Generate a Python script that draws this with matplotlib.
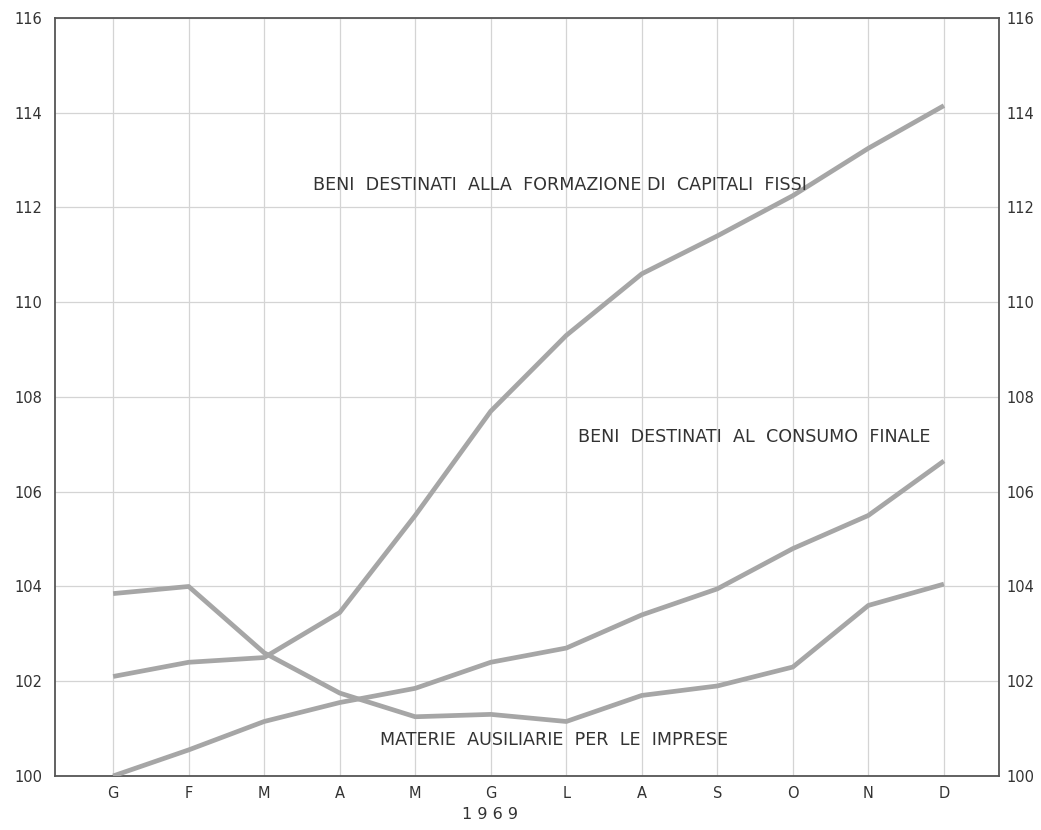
import matplotlib
matplotlib.use("Agg")
import matplotlib.pyplot as plt

months = ["G", "F", "M", "A", "M", "G", "L", "A", "S", "O", "N", "D"]
capitali_fissi = [102.1, 102.4, 102.5, 103.45, 105.5, 107.7, 109.3, 110.6, 111.4, 112.25, 113.25, 114.15]
consumo_finale = [100.0, 100.55, 101.15, 101.55, 101.85, 102.4, 102.7, 103.4, 103.95, 104.8, 105.5, 106.65]
materie_ausiliarie = [103.85, 104.0, 102.6, 101.75, 101.25, 101.3, 101.15, 101.7, 101.9, 102.3, 103.6, 104.05]
y_ticks = [100, 102, 104, 106, 108, 110, 112, 114, 116]
y_labels = ["100", "102", "104", "106", "108", "110", "112", "114", "116"]
year_label = "1 9 6 9"
label_capitali = "BENI  DESTINATI  ALLA  FORMAZIONE DI  CAPITALI  FISSI"
label_consumo = "BENI  DESTINATI  AL  CONSUMO  FINALE"
label_materie = "MATERIE  AUSILIARIE  PER  LE  IMPRESE"

plt.rcParams['font.family'] = ['DejaVu Sans']

fig = plt.figure(figsize=(10.41, 8.30), dpi=100)
ax = fig.add_axes([0.0528, 0.0651, 0.9069, 0.9132])
x = list(range(len(months)))

line_color = "#a6a6a6"
ax.plot(x, capitali_fissi, color=line_color, lw=3.4, solid_capstyle="butt", zorder=3)
ax.plot(x, consumo_finale, color=line_color, lw=3.4, solid_capstyle="butt", zorder=3)
ax.plot(x, materie_ausiliarie, color=line_color, lw=3.4, solid_capstyle="butt", zorder=3)

ax.set_xlim(-0.77, 11.73)
ax.set_ylim(100, 116)
ax.set_xticks(x)
ax.set_xticklabels(months)
ax.set_yticks(y_ticks)
ax.set_yticklabels(y_labels)
ax.grid(True, color="#d4d4d4", lw=0.9)
ax.set_axisbelow(True)
ax.tick_params(length=0, labelsize=10.5, labelcolor="#333333")
ax.tick_params(axis="x", pad=7)
ax.tick_params(axis="y", pad=9)
for s in ax.spines.values():
    s.set_color("#555555")
    s.set_linewidth(1.3)

ax2 = ax.twinx()
ax2.set_ylim(100, 116)
ax2.set_yticks(y_ticks)
ax2.set_yticklabels(y_labels)
ax2.tick_params(length=0, labelsize=10.5, labelcolor="#333333", pad=5)
for s in ax2.spines.values():
    s.set_visible(False)

txt_kw = dict(fontsize=12.6, color="#333333", va="center", ha="left")
ax.text(2.65, 112.47, label_capitali, **txt_kw)
ax.text(6.16, 107.16, label_consumo, **txt_kw)
ax.text(3.54, 100.76, label_materie, **txt_kw)

fig.text(490 / 1041, 1 - 814 / 830, year_label, fontsize=11.5, color="#333333",
         ha="center", va="center")

fig.savefig("out.png", dpi=100, facecolor="white")
